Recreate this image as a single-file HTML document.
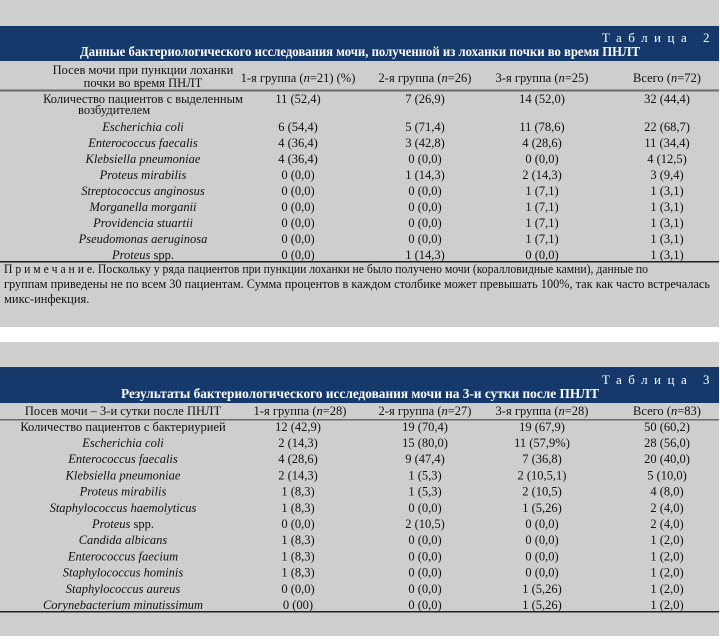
<!DOCTYPE html>
<html><head><meta charset="utf-8"><style>
html,body{margin:0;padding:0;background:#fff;}
svg{display:block;font-family:"Liberation Serif","DejaVu Serif",serif;}
</style></head><body>
<svg width="720" height="639" viewBox="0 0 720 639" xmlns="http://www.w3.org/2000/svg">
<g id="t2">
<rect x="0" y="0" width="719" height="327" fill="#cecece"/>
<rect x="0" y="26" width="719" height="35" fill="#15396a"/>
<text x="716" y="42" text-anchor="end" fill="#fff" font-size="13" letter-spacing="6.5">Таблица 2</text>
<text x="360" y="56" text-anchor="middle" fill="#fff" font-size="14" font-weight="bold" textLength="560" lengthAdjust="spacingAndGlyphs">Данные бактериологического исследования мочи, полученной из лоханки почки во время ПНЛТ</text>
<g font-size="12.5" fill="#111" text-anchor="middle">
<text x="143" y="74">Посев мочи при пункции лоханки</text>
<text x="143" y="87">почки во время ПНЛТ</text>
<text x="298" y="82">1-я группа (<tspan font-style="italic">n</tspan>=21) (%)</text>
<text x="425" y="82">2-я группа (<tspan font-style="italic">n</tspan>=26)</text>
<text x="542" y="82">3-я группа (<tspan font-style="italic">n</tspan>=25)</text>
<text x="667" y="82">Всего (<tspan font-style="italic">n</tspan>=72)</text>
</g>
<rect x="0" y="89.5" width="719" height="2" fill="#6e6a66"/>
<g id="t2rows" font-size="12.5" fill="#111" text-anchor="middle"></g>
<rect x="0" y="261" width="719" height="1.5" fill="#222"/>
<g font-size="12.5" fill="#111">
<text x="4" y="273" textLength="644" lengthAdjust="spacingAndGlyphs">П р и м е ч а н и е. Поскольку у ряда пациентов при пункции лоханки не было получено мочи (коралловидные камни), данные по</text>
<text x="4" y="288" textLength="706" lengthAdjust="spacingAndGlyphs">группам приведены не по всем 30 пациентам. Сумма процентов в каждом столбике может превышать 100%, так как часто встречалась</text>
<text x="4" y="303">микс-инфекция.</text>
</g>
</g>
<g id="t3">
<rect x="0" y="342" width="719" height="294" fill="#cecece"/>
<rect x="0" y="367" width="719" height="36" fill="#15396a"/>
<text x="716" y="384" text-anchor="end" fill="#fff" font-size="13" letter-spacing="6.5">Таблица 3</text>
<text x="360" y="398" text-anchor="middle" fill="#fff" font-size="14" font-weight="bold" textLength="478" lengthAdjust="spacingAndGlyphs">Результаты бактериологического исследования мочи на 3-и сутки после ПНЛТ</text>
<g font-size="12.5" fill="#111" text-anchor="middle">
<text x="123" y="415">Посев мочи – 3-и сутки после ПНЛТ</text>
<text x="300" y="415">1-я группа (<tspan font-style="italic">n</tspan>=28)</text>
<text x="425" y="415">2-я группа (<tspan font-style="italic">n</tspan>=27)</text>
<text x="542" y="415">3-я группа (<tspan font-style="italic">n</tspan>=28)</text>
<text x="667" y="415">Всего (<tspan font-style="italic">n</tspan>=83)</text>
</g>
<rect x="0" y="419" width="719" height="1.5" fill="#6e6a66"/>
<g id="t3rows" font-size="12.5" fill="#111" text-anchor="middle"></g>
<rect x="0" y="611" width="719" height="1.5" fill="#222"/>
</g>
</svg>
<script>
const t2Names=["Escherichia coli","Enterococcus faecalis","Klebsiella pneumoniae","Proteus mirabilis","Streptococcus anginosus","Morganella morganii","Providencia stuartii","Pseudomonas aeruginosa","Proteus"];
const t2Vals=[["6 (54,4)","5 (71,4)","11 (78,6)","22 (68,7)"],["4 (36,4)","3 (42,8)","4 (28,6)","11 (34,4)"],["4 (36,4)","0 (0,0)","0 (0,0)","4 (12,5)"],["0 (0,0)","1 (14,3)","2 (14,3)","3 (9,4)"],["0 (0,0)","0 (0,0)","1 (7,1)","1 (3,1)"],["0 (0,0)","0 (0,0)","1 (7,1)","1 (3,1)"],["0 (0,0)","0 (0,0)","1 (7,1)","1 (3,1)"],["0 (0,0)","0 (0,0)","1 (7,1)","1 (3,1)"],["0 (0,0)","1 (14,3)","0 (0,0)","1 (3,1)"]];
const t2Total=["11 (52,4)","7 (26,9)","14 (52,0)","32 (44,4)"];
const t3Names=["Escherichia coli","Enterococcus faecalis","Klebsiella pneumoniae","Proteus mirabilis","Staphylococcus haemolyticus","Proteus","Candida albicans","Enterococcus faecium","Staphylococcus hominis","Staphylococcus aureus","Corynebacterium minutissimum"];
const t3Vals=[["2 (14,3)","15 (80,0)","11 (57,9%)","28 (56,0)"],["4 (28,6)","9 (47,4)","7 (36,8)","20 (40,0)"],["2 (14,3)","1 (5,3)","2 (10,5,1)","5 (10,0)"],["1 (8,3)","1 (5,3)","2 (10,5)","4 (8,0)"],["1 (8,3)","0 (0,0)","1 (5,26)","2 (4,0)"],["0 (0,0)","2 (10,5)","0 (0,0)","2 (4,0)"],["1 (8,3)","0 (0,0)","0 (0,0)","1 (2,0)"],["1 (8,3)","0 (0,0)","0 (0,0)","1 (2,0)"],["1 (8,3)","0 (0,0)","0 (0,0)","1 (2,0)"],["0 (0,0)","0 (0,0)","1 (5,26)","1 (2,0)"],["0 (00)","0 (0,0)","1 (5,26)","1 (2,0)"]];
const t3Total=["12 (42,9)","19 (70,4)","19 (67,9)","50 (60,2)"];
const NS="http://www.w3.org/2000/svg";
const cols=[298,425,542,667];
function txt(g,x,y,s,italic){const t=document.createElementNS(NS,"text");t.setAttribute("x",x);t.setAttribute("y",y);if(italic)t.setAttribute("font-style","italic");t.textContent=s;g.appendChild(t);return t;}
function build(gid,nameX,firstLines,firstY,total,names,vals,y0,dy,prefix){
 const g=document.getElementById(gid);
 const r0=document.createElementNS(NS,"g");
 
 
 g.appendChild(r0);
 firstLines.forEach((l,i)=>{
  if(i===0){txt(r0,nameX,firstY,l,false);}
  else{const t=txt(r0,78,firstY+11,l,false);t.setAttribute("text-anchor","start");}
 });
 total.forEach((v,j)=>txt(r0,cols[j],firstY,v,false));
 names.forEach((n,i)=>{
  const r=document.createElementNS(NS,"g");
  
  
  g.appendChild(r);
  const y=y0+i*dy;
  const t=txt(r,nameX,y,n,true);
  if(n==="Proteus"){const s=document.createElementNS(NS,"tspan");s.setAttribute("font-style","normal");s.textContent=" spp.";t.appendChild(s);}
  vals[i].forEach((v,j)=>txt(r,cols[j],y,v,false));
 });
}
build("t2rows",143,["Количество пациентов  с выделенным","возбудителем"],103,t2Total,t2Names,t2Vals,131,16,"t2");
build("t3rows",123,["Количество пациентов с бактериурией"],431,t3Total,t3Names,t3Vals,447,16.2,"t3");
</script>
</body></html>
